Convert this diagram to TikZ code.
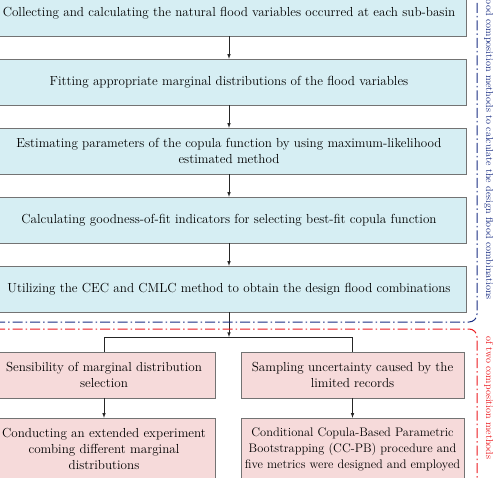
\documentclass[tikz,border=0pt]{standalone}
\usepackage{tikz}
\definecolor{boxblue}{RGB}{214,238,243}
\definecolor{boxred}{RGB}{246,218,218}
\definecolor{lineblue}{RGB}{25,45,130}
\definecolor{linered}{RGB}{235,25,30}

\begin{document}
\begin{tikzpicture}[x=1pt, y=-1pt,
    every node/.style={font=\fontsize{13.1}{16}\selectfont, text=black},
    stepblue/.style={draw=black!55, fill=boxblue, minimum width=474pt, minimum height=46pt, align=center, inner xsep=1pt},
    stepred/.style={draw=black!55, fill=boxred, minimum width=223pt, minimum height=46pt, align=center, inner xsep=1pt},
    flow/.style={-latex, black!85, semithick},
    groupline/.style={line width=1pt, dash pattern=on 10pt off 3pt on 1.5pt off 3pt, rounded corners=8pt},
    sidelabel/.style={rotate=-90, inner sep=0pt, font=\fontsize{10}{12}\selectfont}
  ]
              \clip (0, 0) rectangle (495, 477);
              \node [stepblue] (collect) at (229, 13) {Collecting and calculating the natural flood variables occurred at each sub-basin};
              \node [stepblue] (fit) at (229, 82) {Fitting appropriate marginal distributions of the flood variables};
              \node [stepblue] (estimate) at (229, 151) {Estimating parameters of the copula function by using maximum-likelihood\\estimated method};
              \node [stepblue] (goodness) at (229, 220) {Calculating goodness-of-fit indicators for selecting best-fit copula function};
              \node [stepblue] (combine) at (229, 289) {Utilizing the CEC and CMLC method to obtain the design flood combinations};

              \node [stepred] (margin) at (104, 375) {Sensibility of marginal distribution\\selection};
              \node [stepred] (sampling) at (352.5, 375) {Sampling uncertainty caused by the\\limited records};
              \node [stepred, minimum height=62pt] (experiment) at (104, 449) {Conducting an extended experiment\\combing different marginal\\distributions};
              \node [stepred, minimum height=62pt, font=\fontsize{12.4}{16}\selectfont] (bootstrap) at (352.5, 449) {Conditional Copula-Based Parametric\\Bootstrapping (CC-PB) procedure and\\five metrics were designed and employed};

              \coordinate (split) at (229, 337);
              \begin{scope}[flow]
                          \draw (collect) -- (fit);
                          \draw (fit) -- (estimate);
                          \draw (estimate) -- (goodness);
                          \draw (goodness) -- (combine);
                          \draw (combine.south) -- (split);
                          \draw (margin) -- (experiment);
                          \draw (sampling) -- (bootstrap);
              \end{scope}
              \draw [black!85, semithick] (margin.north) -- (margin.north |- split) -- (sampling.north |- split) -- (sampling.north);

              \coordinate (bluecorner) at (477, 322);
              \coordinate (redcorner) at (477, 329);
              \draw [groupline, lineblue] (-5, 322) -- (bluecorner) -- (477, -10);
              \draw [groupline, linered] (-5, 329) -- (redcorner) -- (477, 490);
              \node [sidelabel, anchor=base east, text=lineblue] (designlabel) at (486, 300) {Design flood composition methods to calculate the design flood combinations};
              \node [sidelabel, anchor=base west, text=linered] (uncertlabel) at (486, 336) {of two composition methods};
\end{tikzpicture}
\end{document}
